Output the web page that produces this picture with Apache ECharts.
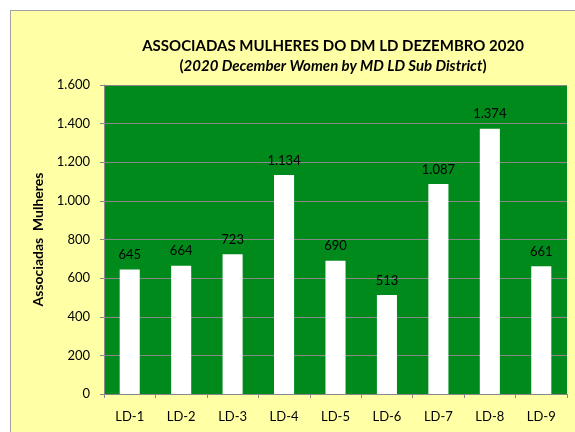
<!DOCTYPE html>
<html>
<head>
<meta charset="utf-8">
<script src="https://cdn.jsdelivr.net/npm/echarts@6/dist/echarts.min.js"></script>
<style>
  html, body { margin: 0; padding: 0; background: #ffffff; }
  #frame {
    position: absolute; left: 10px; top: 10px; width: 570px; height: 430px;
    box-sizing: border-box; border: 1px solid #a0a0a0; background: #ffffa6;
  }
  #chart { width: 575px; height: 432px; position: absolute; left: 0; top: 0; }
</style>
</head>
<body>
<div id="frame"></div>
<div id="chart"></div>
<script>
const categories = ['LD-1', 'LD-2', 'LD-3', 'LD-4', 'LD-5', 'LD-6', 'LD-7', 'LD-8', 'LD-9'];
const members = [645, 664, 723, 1134, 690, 513, 1087, 1374, 661];
const yTicks = [0, 200, 400, 600, 800, 1000, 1200, 1400, 1600];

const fontFamily = 'Lato, "Open Sans", sans-serif';

function fmt(v) {
  return String(v).replace(/\B(?=(\d{3})+(?!\d))/g, '.');
}

const chart = echarts.init(document.getElementById('chart'));

chart.setOption({
  backgroundColor: 'transparent',
  animation: false,
  textStyle: { fontFamily },
  title: {
    left: 328,
    top: 31,
    textAlign: 'center',
    text: '{t|ASSOCIADAS MULHERES DO DM LD DEZEMBRO 2020}\n{p|(}{i|2020 December Women by MD LD Sub District}{p|)}',
    textStyle: {
      rich: {
        t: { fontFamily, fontSize: 15, fontWeight: 'bold', color: '#000', lineHeight: 20 },
        p: { fontFamily, fontSize: 15, fontWeight: 'bold', color: '#000', lineHeight: 20 },
        i: { fontFamily, fontSize: 15, fontWeight: 'bold', fontStyle: 'italic', color: '#000', lineHeight: 20 },
      },
    },
  },
  grid: {
    left: 104, right: 8, top: 85, bottom: 38,
    show: true, backgroundColor: '#008a1c', borderWidth: 0,
  },
  xAxis: {
    type: 'category',
    data: categories,
    axisLine: { show: true, lineStyle: { color: '#888888' } },
    axisTick: { show: true, alignWithLabel: false, length: 4, lineStyle: { color: '#888888' } },
    axisLabel: { color: '#000', fontSize: 13, fontFamily, margin: 16 },
  },
  yAxis: {
    type: 'value',
    min: yTicks[0],
    max: yTicks[yTicks.length - 1],
    interval: 200,
    name: 'Associadas  Mulheres',
    nameLocation: 'middle',
    nameGap: 58,
    nameTextStyle: { color: '#000', fontSize: 14, fontWeight: 'bold', fontFamily },
    axisLine: { show: true, lineStyle: { color: '#888888' } },
    axisTick: { show: true, length: 4, lineStyle: { color: '#888888' } },
    axisLabel: { color: '#000', fontSize: 13, fontFamily, margin: 14, formatter: (v) => fmt(v) },
    splitLine: { show: true, lineStyle: { color: '#888888', width: 1 } },
  },
  series: [
    {
      type: 'bar',
      data: members,
      barWidth: '39%',
      itemStyle: { color: '#ffffff' },
      label: {
        show: true,
        position: 'top',
        distance: 8,
        color: '#000',
        fontSize: 13,
        fontFamily,
        formatter: (p) => fmt(p.value),
      },
    },
  ],
});
</script>
</body>
</html>
